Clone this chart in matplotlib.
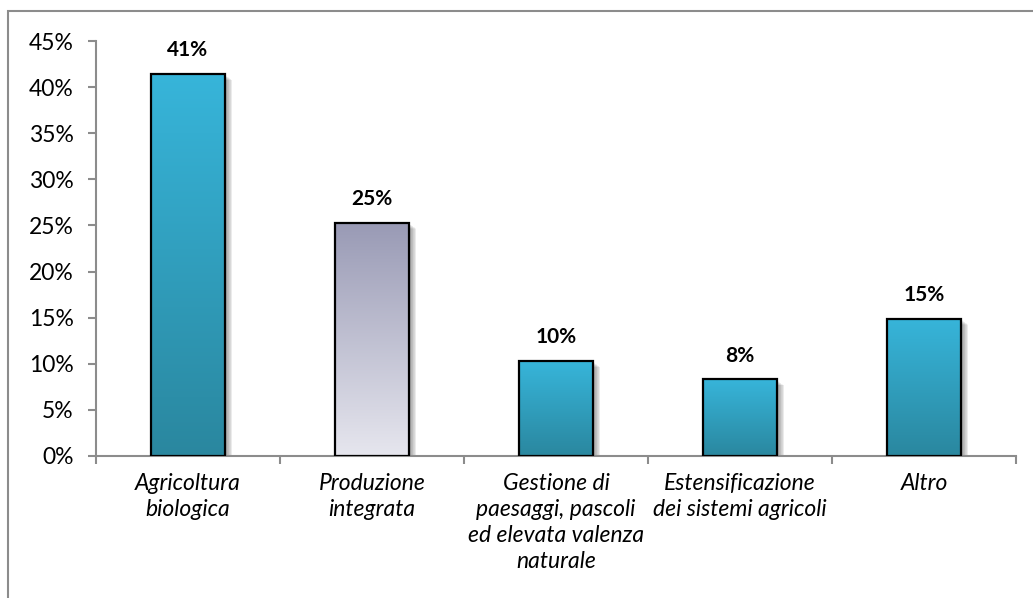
import numpy as np
import matplotlib
matplotlib.use("Agg")
import matplotlib.pyplot as plt
from matplotlib.patches import Rectangle
from matplotlib.colors import LinearSegmentedColormap

categories = [
    "Agricoltura\nbiologica",
    "Produzione\nintegrata",
    "Gestione di\npaesaggi, pascoli\ned elevata valenza\nnaturale",
    "Estensificazione\ndei sistemi agricoli",
    "Altro",
]
values = [41.4, 25.3, 10.3, 8.3, 14.9]
bar_styles = ["blue", "grey", "blue", "blue", "blue"]
y_ticks = [0, 5, 10, 15, 20, 25, 30, 35, 40, 45]

gradients = {
    "blue": ("#37b5da", "#2a879f"),   # top, bottom
    "grey": ("#999ab5", "#e6e6ee"),
}

plt.rcParams["font.family"] = ["Lato", "DejaVu Sans"]

W, H = 1033, 598
fig = plt.figure(figsize=(W / 100, H / 100), dpi=100)
fig.patch.set_facecolor("white")

# outer chart frame
frame = Rectangle((8 / W, -0.1), 1.2, (H - 11) / H + 0.1, transform=fig.transFigure,
                  fill=False, edgecolor="#8c8c8c", linewidth=1.5)
fig.add_artist(frame)

ax = fig.add_axes([96 / W, (H - 456) / H, (1016 - 96) / W, (456 - 41) / H])
n = len(categories)

bw = 0.4
for i, (v, style) in enumerate(zip(values, bar_styles)):
    x0 = i - bw / 2
    # soft drop shadow to the right
    for k in range(10):
        sh = Rectangle((x0 + 0.01 + k * 0.0035, -0.15), bw, v - 0.05 - k * 0.05,
                       facecolor="black", edgecolor="none", alpha=0.04, zorder=1)
        ax.add_patch(sh)
    top, bot = gradients[style]
    cmap = LinearSegmentedColormap.from_list("g", [bot, top])
    grad = np.linspace(0, 1, 256).reshape(-1, 1)
    im = ax.imshow(grad, cmap=cmap, aspect="auto", origin="lower",
                   extent=(x0, x0 + bw, 0, v), zorder=2)
    rect = Rectangle((x0, 0), bw, v, facecolor="none", edgecolor="black",
                     linewidth=1.6, zorder=3)
    ax.add_patch(rect)
    im.set_clip_path(rect)
    ax.annotate(f"{v:.0f}%", xy=(i, v), xytext=(0, 10), textcoords="offset points",
                ha="center", va="bottom", fontsize=15, fontweight="bold",
                color="black", zorder=4)

ax.set_xlim(-0.5, n - 0.5)
ax.set_ylim(0, 45)

ax.set_yticks(y_ticks)
ax.set_yticklabels([f"{t}%" for t in y_ticks], fontsize=16.5)
ax.set_xticks(np.arange(n))
ax.set_xticklabels(categories, fontsize=16.5, style="italic", linespacing=1.3)
ax.set_xticks(np.arange(-0.5, n), minor=True)

ax.tick_params(axis="x", which="major", length=0, pad=12)
ax.tick_params(axis="x", which="minor", length=6, width=1.5, color="#8c8c8c", direction="out")
ax.tick_params(axis="y", length=6, width=1.5, color="#8c8c8c", pad=10)

for s in ["top", "right"]:
    ax.spines[s].set_visible(False)
for s in ["left", "bottom"]:
    ax.spines[s].set_color("#8c8c8c")
    ax.spines[s].set_linewidth(1.5)

fig.savefig("out.png", dpi=100, facecolor="white")
